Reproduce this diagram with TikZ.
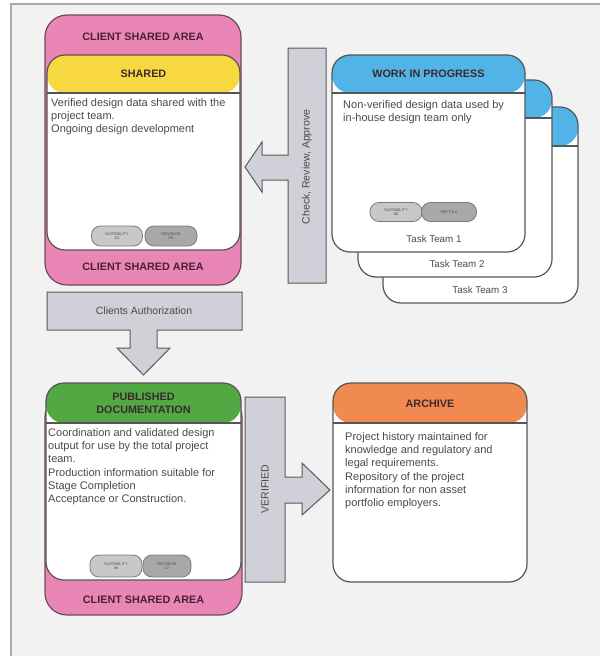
\documentclass[tikz,border=0pt]{standalone}
\usepackage{fontspec}
\setmainfont{Liberation Sans}
\definecolor{bgfill}{HTML}{F2F2F2}
\definecolor{bgline}{HTML}{A8A8A8}
\definecolor{pinkfill}{HTML}{EA86B6}
\definecolor{pinkline}{HTML}{6E4A5C}
\definecolor{cardline}{HTML}{555555}
\definecolor{yellowfill}{HTML}{F8D840}
\definecolor{bluefill}{HTML}{52B4E6}
\definecolor{greenfill}{HTML}{52A843}
\definecolor{orangefill}{HTML}{F08A50}
\definecolor{arrowfill}{HTML}{D0D0D8}
\definecolor{arrowline}{HTML}{5A5A5A}
\definecolor{bodytext}{HTML}{4A4A4A}
\definecolor{headtext}{HTML}{3A2A30}
\definecolor{pinktext}{HTML}{4A1F35}
\definecolor{pillA}{HTML}{C8C8C8}
\definecolor{pillB}{HTML}{A8A8A8}
\definecolor{pillline}{HTML}{7A7A7A}
\definecolor{pilltext}{HTML}{505050}
\tikzset{
  cardbox/.style={draw=cardline, line width=1.2pt, rounded corners=18pt, fill=white, inner sep=0pt, outer sep=0pt},
  pinkbox/.style={draw=pinkline, line width=1.2pt, rounded corners=22pt, fill=pinkfill, inner sep=0pt},
  pill/.style={draw=pillline, line width=0.8pt, rounded corners=9pt, inner sep=0pt, minimum height=20pt, font=\fontsize{4}{4.6}\selectfont, align=center, text=pilltext},
  bodytxt/.style={anchor=north west, align=left, font=\fontsize{11}{13.3}\selectfont, text=bodytext, inner sep=0pt},
  headtxt/.style={font=\bfseries\fontsize{10.8}{13}\selectfont, align=center, text=headtext, inner sep=0pt},
  pinktxt/.style={font=\bfseries\fontsize{10.8}{12}\selectfont, text=pinktext, inner sep=0pt},
  teamtxt/.style={font=\fontsize{9.8}{11}\selectfont, text=bodytext, inner sep=0pt},
  blockarrow/.style={draw=arrowline, fill=arrowfill, line width=1pt, line join=miter},
  arrowtxt/.style={font=\fontsize{10.5}{12}\selectfont, text=bodytext, inner sep=0pt},
}
% name, x1, y1, x2, y2, header height, colour
\newcommand\mkcard[7]{%
  \node[cardbox, minimum width={#4-#2}, minimum height={#5-#3},
    path picture={\fill[#7] (path picture bounding box.north west) rectangle ([yshift=-#6]path picture bounding box.north east);
      \draw[cardline, line width=1.2pt] ([yshift=-#6]path picture bounding box.north west) -- ([yshift=-#6]path picture bounding box.north east);}]
    (#1) at ({(#2+#4)/2},{(#3+#5)/2}) {};}
\begin{document}
\begin{tikzpicture}[x=1pt, y=-1pt]
\useasboundingbox (0,0) rectangle (600,656);
% background
\fill[bgfill] (11,4) rectangle (600,656);
\draw[bgline, line width=1.2pt] (11,656) -- (11,4) -- (600,4);

% ---------- top-left: client shared area + shared ----------
\node[pinkbox, minimum width=196, minimum height=270] (csa1) at (143,150) {};
\node[pinktxt] (csa1top) at (143,37) {CLIENT SHARED AREA};
\node[pinktxt] (csa1bot) at (143,267) {CLIENT SHARED AREA};
\mkcard{shared}{47}{55}{240}{250}{38}{yellowfill}
\node[headtxt] (sharedhead) at (143.5,74) {SHARED};
\node[bodytxt] (sharedtxt) at (51,98) {Verified design data shared with the\\project team.\\Ongoing design development};
\node[pill, fill=pillA, minimum width=51] (sharedsuit) at (117,236) {SUITABILITY\\S1};
\node[pill, fill=pillB, minimum width=52] (sharedrev) at (171,236) {REVISION\\Pn};

% ---------- work in progress stack ----------
\mkcard{wip3}{383}{107}{578}{303}{39}{bluefill}
\node[teamtxt] (team3) at (480,290) {Task Team 3};
\mkcard{wip2}{358}{80}{552}{277}{38}{bluefill}
\node[teamtxt] (team2) at (457,264) {Task Team 2};
\mkcard{wip1}{332}{55}{525}{252}{38}{bluefill}
\node[teamtxt] (team1) at (434,239) {Task Team 1};
\node[headtxt, text=headtext] (wiphead) at (428.5,74) {WORK IN PROGRESS};
\node[bodytxt] (wiptxt) at (343,100) {Non-verified design data used by\\in-house design team only};
\node[pill, fill=pillA, minimum width=52, minimum height=19] (wipsuit) at (396,212) {SUITABILITY\\S0};
\node[pill, fill=pillB, minimum width=55, minimum height=19] (wiprev) at (449,212) {WIP Pn.n};

% ---------- check / review / approve arrow ----------
\draw[blockarrow] (326,48) -- (288,48) -- (288,155) -- (262,155) -- (262,142) -- (245,167)
  -- (262,192) -- (262,180) -- (288,180) -- (288,283) -- (326,283) -- cycle;
\node[arrowtxt, rotate=90] (cra) at (307,167) {Check, Review, Approve};

% ---------- clients authorization arrow ----------
\draw[blockarrow] (47,292) -- (242,292) -- (242,330) -- (157,330) -- (157,348) -- (170,348)
  -- (143.5,375) -- (117,348) -- (130,348) -- (130,330) -- (47,330) -- cycle;
\node[arrowtxt] (auth) at (144,311) {Clients Authorization};

% ---------- published documentation ----------
\node[pinkbox, minimum width=197, minimum height=220] (csa2) at (143.5,505) {};
\node[pinktxt] (csa2bot) at (143.5,600) {CLIENT SHARED AREA};
\mkcard{pub}{46}{383}{241}{580}{40}{greenfill}
\node[headtxt] (pubhead) at (143.5,403) {PUBLISHED\\DOCUMENTATION};
\node[bodytxt] (pubtxt) at (48,428) {Coordination and validated design\\output for use by the total project\\team.\\Production information suitable for\\Stage Completion\\Acceptance or Construction.};
\node[pill, fill=pillA, minimum width=52, minimum height=22] (pubsuit) at (116,566) {SUITABILITY\\An};
\node[pill, fill=pillB, minimum width=48, minimum height=22] (pubrev) at (167,566) {REVISION\\Cn};

% ---------- verified arrow ----------
\draw[blockarrow] (245,397) -- (285,397) -- (285,477) -- (302,477) -- (302,463) -- (330,490)
  -- (302,515) -- (302,503) -- (285,503) -- (285,582) -- (245,582) -- cycle;
\node[arrowtxt, rotate=90] (verified) at (265,489) {VERIFIED};

% ---------- archive ----------
\mkcard{archive}{333}{383}{527}{582}{40}{orangefill}
\node[headtxt] (archhead) at (430,404) {ARCHIVE};
\node[bodytxt] (archtxt) at (345,432) {Project history maintained for\\knowledge and regulatory and\\legal requirements.\\Repository of the project\\information for non asset\\portfolio employers.};
\end{tikzpicture}
\end{document}
